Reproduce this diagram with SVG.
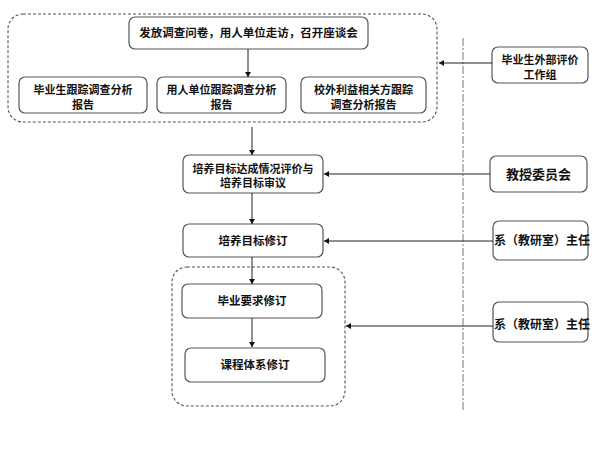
<svg xmlns="http://www.w3.org/2000/svg" width="606" height="457" viewBox="0 0 606 457">
<style>
.box{fill:#fff;stroke:#555;stroke-width:1.2}
.grp{fill:none;stroke:#555;stroke-width:1.1;stroke-dasharray:3 2}
.t{font-family:"Noto Sans CJK SC","Noto Sans CJK TC",sans-serif;font-size:11.5px;font-weight:bold;fill:#111;text-anchor:middle}
.s{font-size:11px}
.c{stroke:#222;stroke-width:1;fill:none;marker-end:url(#ah)}
</style>
<defs>
<marker id="ah" markerWidth="6" markerHeight="6" refX="5" refY="3" orient="auto" markerUnits="userSpaceOnUse">
<path d="M0,0 L5,3 L0,6 z" fill="#111"/>
</marker>
</defs>
<rect width="606" height="457" fill="#fff"/>
<g id="group1"><rect class="grp" x="8" y="14" width="429" height="108" rx="15"/></g>
<g id="group2"><rect class="grp" x="172" y="267" width="173" height="139" rx="15"/></g>
<line x1="463" y1="38" x2="463" y2="410" stroke="#777" stroke-width="1" stroke-dasharray="8 2 2 2"/>
<g id="n1"><rect class="box" x="129" y="17" width="239" height="32" rx="6"/><text class="t" x="248.5" y="37">发放调查问卷，用人单位走访，召开座谈会</text></g>
<g id="n2"><rect class="box" x="19" y="77" width="128" height="36" rx="6"/><text class="t s" x="83" y="94">毕业生跟踪调查分析</text><text class="t s" x="83" y="108.5">报告</text></g>
<g id="n3"><rect class="box" x="157" y="77" width="129" height="36" rx="6"/><text class="t s" x="221.5" y="94">用人单位跟踪调查分析</text><text class="t s" x="221.5" y="108.5">报告</text></g>
<g id="n4"><rect class="box" x="301" y="77" width="125" height="36" rx="6"/><text class="t s" x="363.5" y="94">校外利益相关方跟踪</text><text class="t s" x="363.5" y="108.5">调查分析报告</text></g>
<g id="n5"><rect class="box" x="183" y="155" width="140" height="38" rx="6"/><text class="t s" x="253" y="172.5">培养目标达成情况评价与</text><text class="t s" x="253" y="187">培养目标审议</text></g>
<g id="n6"><rect class="box" x="183" y="224" width="140" height="33" rx="6"/><text class="t" x="253" y="244.5">培养目标修订</text></g>
<g id="n7"><rect class="box" x="182" y="284" width="140" height="34" rx="6"/><text class="t" x="252" y="305">毕业要求修订</text></g>
<g id="n8"><rect class="box" x="185" y="348" width="140" height="34" rx="6"/><text class="t" x="255" y="369">课程体系修订</text></g>
<g id="r1"><rect class="box" x="492" y="47" width="96" height="36" rx="6"/><text class="t s" x="540" y="64">毕业生外部评价</text><text class="t s" x="540" y="78.5">工作组</text></g>
<g id="r2"><rect class="box" x="490" y="156" width="97" height="36" rx="6"/><text class="t" x="538.5" y="179" style="font-size:13px">教授委员会</text></g>
<g id="r3"><rect class="box" x="493" y="221" width="95" height="39" rx="6"/><text class="t" x="542" y="245" style="font-size:12px">系（教研室）主任</text></g>
<g id="r4"><rect class="box" x="493" y="302" width="95" height="40" rx="6"/><text class="t" x="542" y="329" style="font-size:12px">系（教研室）主任</text></g>
<g id="connectors">
<line class="c" x1="248" y1="49" x2="248" y2="77"/>
<line class="c" x1="252" y1="127" x2="252" y2="155"/>
<line class="c" x1="252" y1="193" x2="252" y2="224"/>
<line class="c" x1="252" y1="257" x2="252" y2="284"/>
<line class="c" x1="252" y1="318" x2="252" y2="347"/>
<line class="c" x1="492" y1="63" x2="439" y2="63"/>
<line class="c" x1="490" y1="174" x2="324" y2="174"/>
<line class="c" x1="493" y1="241" x2="324" y2="241"/>
<line class="c" x1="493" y1="326" x2="346" y2="326"/>
</g>
</svg>
